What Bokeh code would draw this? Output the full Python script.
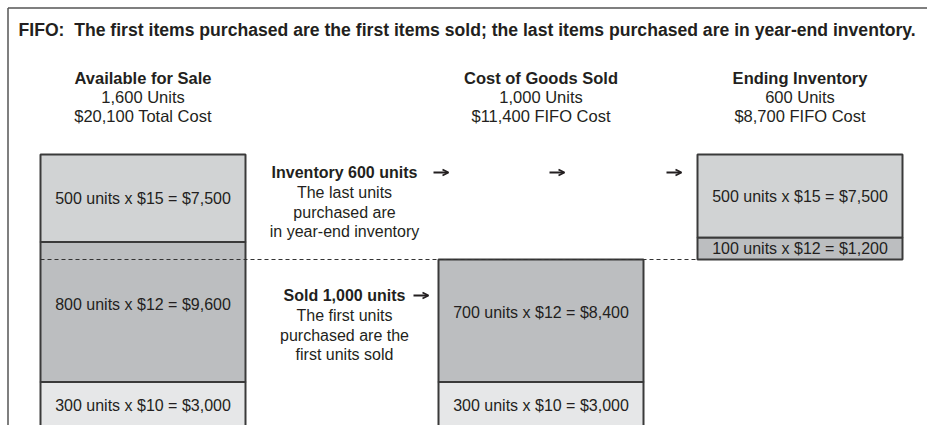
from bokeh.plotting import figure
from bokeh.models import Range1d, ColumnDataSource, Arrow, OpenHead
from bokeh.core.properties import value
from bokeh.embed import file_html
from bokeh.resources import INLINE

# ---------------- data ----------------
title_text = "FIFO:\u00a0 The first items purchased are the first items sold; the last items purchased are in year-end inventory."
col_titles = ["Available for Sale", "Cost of Goods Sold", "Ending Inventory"]
col_units = ["1,600 Units", "1,000 Units", "600 Units"]
col_costs = ["$20,100 Total Cost", "$11,400 FIFO Cost", "$8,700 FIFO Cost"]

avail_units = [500, 800, 300]      # latest purchase on top
avail_price = [15, 12, 10]
cogs_units = [700, 300]
cogs_price = [12, 10]
end_units = [500, 100]
end_price = [15, 12]
inventory_units = 600
sold_units = 1000

inv_note = ["Inventory 600 units", "The last units", "purchased are", "in year-end inventory"]
sold_note = ["Sold 1,000 units", "The first units", "purchased are the", "first units sold"]

# ---------------- layout ----------------
W, H = 927, 425
PX_PER_UNIT = 0.175
TOP_PX = 154.0
MIN_SEG = 130          # minimum drawn height of a layer (units) so its label fits


def U(py):
    """page pixel row -> units coordinate"""
    return (py - TOP_PX) / PX_PER_UNIT


col_left = [40, 438, 697]
col_width = 205
col_center = [l + col_width / 2 for l in col_left]
col_start = [0, inventory_units, 0]
col_data = [(avail_units, avail_price), (cogs_units, cogs_price), (end_units, end_price)]

FILL = {15: "#d1d3d4", 12: "#bcbec0", 10: "#e6e7e8"}
TXT = "#231f20"
FONT = value("Liberation Sans")

p = figure(width=W, height=H, output_backend="svg", toolbar_location=None,
           x_axis_type=None, y_axis_type=None,
           x_range=Range1d(0, W), y_range=Range1d(U(H), U(0)),
           min_border=0, min_border_left=0, min_border_right=0,
           min_border_top=0, min_border_bottom=0)
p.grid.visible = False
p.outline_line_color = None
p.background_fill_color = "white"
p.border_fill_color = "white"

# boxes
qs = dict(left=[], right=[], top=[], bottom=[], color=[], label=[], ymid=[], xmid=[])
for ci, (units, prices) in enumerate(col_data):
    drawn = [max(u, MIN_SEG) for u in units]
    k = sum(units) / sum(drawn)
    drawn = [d * k for d in drawn]
    y = col_start[ci]
    for u, d, pr in zip(units, drawn, prices):
        qs["left"].append(col_left[ci])
        qs["right"].append(col_left[ci] + col_width)
        qs["top"].append(y)
        qs["bottom"].append(y + d)
        qs["color"].append(FILL[pr])
        qs["label"].append(f"{u} units x ${pr} = ${u * pr:,}")
        nudge = 45 if u >= 700 else (15 if u == 300 else 0)
        qs["ymid"].append(y + d / 2 - nudge)
        qs["xmid"].append(col_center[ci])
        y += d
src = ColumnDataSource(qs)
p.quad(left="left", right="right", top="top", bottom="bottom", fill_color="color",
       line_color="#3a3a3a", line_width=2, source=src)
p.text(x="xmid", y="ymid", text="label", source=src, text_font=FONT, text_font_size="16px",
       text_color=TXT, text_align="center", text_baseline="middle")

# dashed split line
p.line([col_left[0], col_left[2]], [inventory_units, inventory_units],
       line_color="#333333", line_width=1.1, line_dash="4 3")

# frame
p.line([7.5, W], [U(7.5), U(7.5)], line_color="#555555", line_width=1.5)
p.line([7.5, 7.5], [U(7.5), U(H)], line_color="#555555", line_width=1.5)

# title
p.text(x=[18], y=[U(29)], text=[title_text], text_font=FONT, text_font_size="17.6px",
       text_font_style="bold", text_color=TXT, text_align="left", text_baseline="middle")

# column headers
p.text(x=col_center, y=[U(77)] * 3, text=col_titles, text_font=FONT, text_font_size="16.5px",
       text_font_style="bold", text_color=TXT, text_align="center", text_baseline="middle")
p.text(x=col_center, y=[U(96)] * 3, text=col_units, text_font=FONT, text_font_size="16.5px",
       text_color=TXT, text_align="center", text_baseline="middle")
p.text(x=col_center, y=[U(115)] * 3, text=col_costs, text_font=FONT, text_font_size="16.5px",
       text_color=TXT, text_align="center", text_baseline="middle")

# notes
note_x = 344
for lines, base in ((inv_note, 172), (sold_note, 295)):
    p.text(x=[note_x], y=[U(base)], text=[lines[0]], text_font=FONT, text_font_size="16px",
           text_font_style="bold", text_color=TXT, text_align="center", text_baseline="middle")
    p.text(x=[note_x] * 3, y=[U(base + 20), U(base + 39.5), U(base + 59)], text=lines[1:],
           text_font=FONT, text_font_size="16px", text_color=TXT,
           text_align="center", text_baseline="middle")

# arrows
arrow_specs = [(433, 448, 172), (549, 564, 172), (666, 681, 172), (413, 428, 295)]
for x0, x1, yy in arrow_specs:
    p.add_layout(Arrow(end=OpenHead(size=6, line_width=1.8, line_color=TXT),
                       x_start=x0, y_start=U(yy), x_end=x1, y_end=U(yy),
                       line_width=1.8, line_color=TXT))

open("out.html", "w").write(file_html(p, INLINE))
